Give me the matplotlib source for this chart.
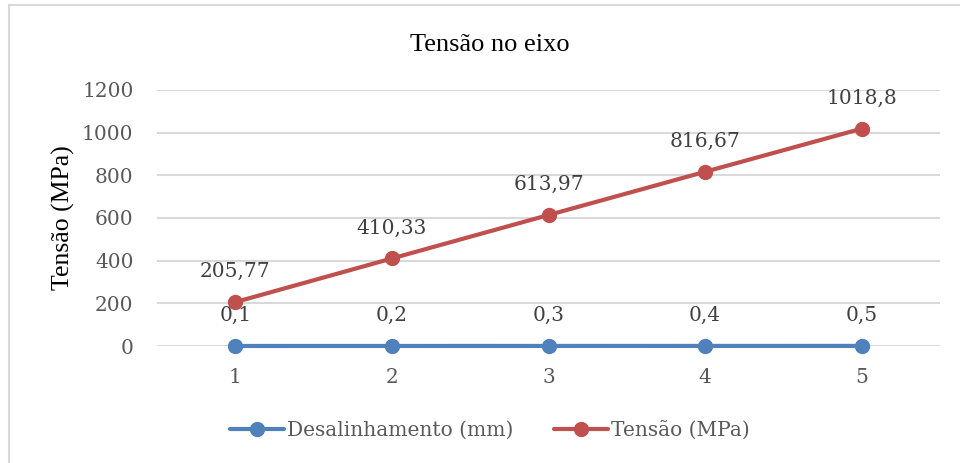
import matplotlib
matplotlib.use("Agg")
import matplotlib.pyplot as plt
from matplotlib.lines import Line2D

# ---- Daten ----
categories = ["1", "2", "3", "4", "5"]
desalinhamento = [0.1, 0.2, 0.3, 0.4, 0.5]
tensao = [205.77, 410.33, 613.97, 816.67, 1018.8]
desal_labels = ["0,1", "0,2", "0,3", "0,4", "0,5"]
tensao_labels = ["205,77", "410,33", "613,97", "816,67", "1018,8"]
yticks = [0, 200, 400, 600, 800, 1000, 1200]

BLUE = "#4F81BD"
RED = "#C0504D"
GRID = "#D9D9D9"
TICK = "#595959"
LABEL = "#404040"
TICKFONT = "DejaVu Serif"
TITLEFONT = "Liberation Serif"
FS = 14.5

fig = plt.figure(figsize=(9.6, 4.63), dpi=100)
ax = fig.add_axes([157 / 960, 1 - 346 / 463, (940 - 157) / 960, (346 - 90) / 463])

x = list(range(1, len(categories) + 1))
ax.plot(x, desalinhamento, color=BLUE, lw=3, marker="o", ms=10,
        solid_capstyle="round", label="Desalinhamento (mm)", zorder=3)
ax.plot(x, tensao, color=RED, lw=3, marker="o", ms=10,
        solid_capstyle="round", label="Tensão (MPa)", zorder=3)

for xi, yi, t in zip(x, desalinhamento, desal_labels):
    ax.annotate(t, (xi, yi), xytext=(0, 22), textcoords="offset points",
                ha="center", va="center", fontsize=FS, color=LABEL, family=TICKFONT)
for xi, yi, t in zip(x, tensao, tensao_labels):
    ax.annotate(t, (xi, yi), xytext=(0, 22), textcoords="offset points",
                ha="center", va="center", fontsize=FS, color=LABEL, family=TICKFONT)

ax.set_xlim(0.5, len(categories) + 0.5)
ax.set_ylim(0, 1200)
ax.set_xticks(x)
ax.set_xticklabels(categories)
ax.set_yticks(yticks)
ax.tick_params(length=0, labelsize=FS, labelcolor=TICK)
ax.tick_params(axis="y", pad=17)
ax.tick_params(axis="x", pad=16)
for lab in ax.get_xticklabels() + ax.get_yticklabels():
    lab.set_family(TICKFONT)
ax.grid(axis="y", color=GRID, lw=1.5)
ax.set_axisbelow(True)
for s in ax.spines.values():
    s.set_visible(False)
for ln in ax.lines:
    ln.set_clip_on(False)

ax.set_ylabel("Tensão (MPa)", family=TITLEFONT, fontsize=18.5, color="black")
ax.yaxis.set_label_coords(-0.105, 0.5)
fig.text(0.51, 1 - 45 / 463, "Tensão no eixo", ha="center", va="center",
         family=TITLEFONT, fontsize=19, color="black")

leg = fig.legend(loc="center", bbox_to_anchor=(0.51, 1 - 430 / 463), ncol=2,
                 frameon=False, handlelength=2.7, handletextpad=0.15, columnspacing=2.0,
                 prop={"family": TICKFONT, "size": FS})
for t in leg.get_texts():
    t.set_color(TICK)

# Rahmen links/oben
fig.add_artist(Line2D([9 / 960, 9 / 960], [0, 1 - 5 / 463], transform=fig.transFigure,
                      color=GRID, lw=1.5))
fig.add_artist(Line2D([9 / 960, 1], [1 - 5 / 463, 1 - 5 / 463], transform=fig.transFigure,
                      color=GRID, lw=1.5))

fig.savefig("out.png", dpi=100)
